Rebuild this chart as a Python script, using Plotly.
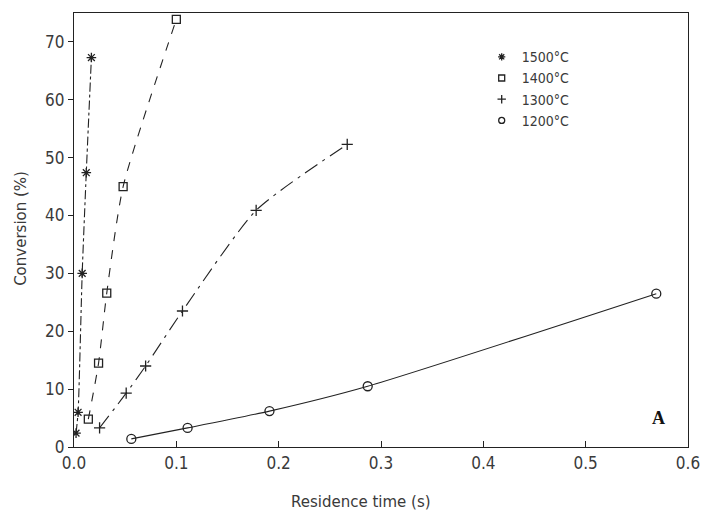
import plotly.graph_objects as go

# Data
t1500 = [0.002, 0.004, 0.008, 0.012, 0.017]
c1500 = [2.4, 6.0, 30.0, 47.4, 67.3]
t1400 = [0.014, 0.024, 0.032, 0.048, 0.100]
c1400 = [4.8, 14.5, 26.6, 45.0, 73.9]
t1300 = [0.025, 0.051, 0.070, 0.106, 0.178, 0.267]
c1300 = [3.3, 9.3, 14.0, 23.5, 40.9, 52.3]
t1200 = [0.056, 0.111, 0.191, 0.287, 0.569]
c1200 = [1.4, 3.3, 6.2, 10.5, 26.5]
labels = ["1500°C", "1400°C", "1300°C", "1200°C"]
x_ticks = [0.0, 0.1, 0.2, 0.3, 0.4, 0.5, 0.6]
x_ticklabels = ["0.0", "0.1", "0.2", "0.3", "0.4", "0.5", "0.6"]
y_ticks = [0, 10, 20, 30, 40, 50, 60, 70]

ink = "#222222"
txt = "#3a3a3a"
fam = "Liberation Sans Narrow, DejaVu Sans Condensed, DejaVu Sans, sans-serif"
series = [
    (t1500, c1500, "asterisk-open", "dashdot", 8),
    (t1400, c1400, "square-open", "dash", 8),
    (t1300, c1300, "cross-thin-open", "longdashdot", 8),
    (t1200, c1200, "circle-open", "solid", 9),
]

fig = go.Figure()
for (xs, ys, sym, dash, size), name in zip(series, labels):
    fig.add_trace(go.Scatter(
        x=xs, y=ys, mode="lines+markers",
        line=dict(color=ink, width=1.1, dash=dash, shape="spline", smoothing=0.6),
        marker=dict(symbol=sym, size=size, color=ink, line=dict(color=ink, width=1.3)),
        showlegend=False, name=name,
    ))
for (xs, ys, sym, dash, size), name in zip(series, labels):
    fig.add_trace(go.Scatter(
        x=[None], y=[None], mode="markers", name=name,
        marker=dict(symbol=sym, size=6, color=ink, line=dict(color=ink, width=1.3)),
    ))

L, R, T, B = 74, 14, 13, 66
W, H = 712, 513
pw, ph = W - L - R, H - T - B

fig.add_annotation(x=0.965, y=0.04, xref="paper", yref="paper", text="<b>A</b>",
                   showarrow=False, font=dict(family="Liberation Serif", size=18, color="#111"))
fig.add_annotation(x=(366 - L) / pw, y=-(502 - (H - B)) / ph, xref="paper", yref="paper",
                   text="Residence time (s)", showarrow=False, yanchor="middle",
                   font=dict(family="DejaVu Sans", size=15, color=txt))
fig.add_annotation(x=-(L - 20) / pw, y=((H - B) - 228) / ph, xref="paper", yref="paper",
                   text="Conversion (%)", showarrow=False, textangle=-90, xanchor="center",
                   font=dict(family="DejaVu Sans", size=15, color=txt))

fig.update_layout(
    width=W, height=H,
    margin=dict(l=L, r=R, t=T, b=B),
    paper_bgcolor="white", plot_bgcolor="white",
    font=dict(family=fam, size=17, color=txt),
    legend=dict(x=0.664, y=0.935, xanchor="left", yanchor="top",
                bgcolor="rgba(0,0,0,0)", font=dict(family=fam, size=14, color=txt),
                itemsizing="trace", tracegroupgap=0),
    xaxis=dict(range=[0, 0.6], tickvals=x_ticks, ticktext=x_ticklabels,
               showgrid=False, zeroline=False, showline=True, mirror=True,
               linecolor=ink, linewidth=1.3, ticks="inside", ticklen=6,
               tickcolor=ink),
    yaxis=dict(range=[0, 75], tickvals=y_ticks,
               showgrid=False, zeroline=False, showline=True, mirror=True,
               linecolor=ink, linewidth=1.3, ticks="outside", ticklen=5,
               tickcolor=ink),
)

fig.write_html("out.html", config={"displayModeBar": False},
               post_script="document.body.style.margin='0';document.body.style.overflow='hidden';")
